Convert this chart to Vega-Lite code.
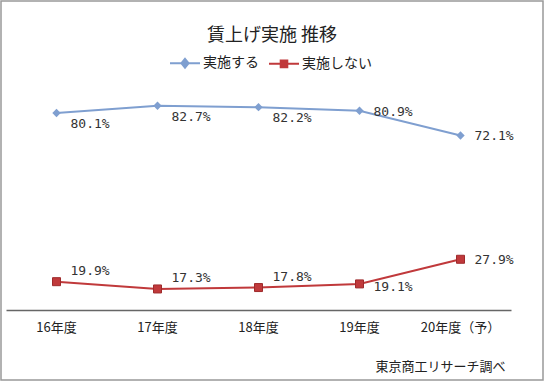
{
  "$schema": "https://vega.github.io/schema/vega-lite/v6.json",
  "width": 542,
  "height": 379,
  "padding": 1,
  "autosize": {"type": "none"},
  "background": "white",
  "config": {
    "view": {"stroke": "#999999", "strokeWidth": 1.5},
    "font": "Noto Sans CJK JP"
  },
  "title": {
    "text": "賃上げ実施 推移",
    "offset": -44,
    "fontSize": 18,
    "font": "Noto Sans CJK JP",
    "fontWeight": "normal",
    "color": "#222222",
    "anchor": "middle"
  },
  "data": {
    "values": [
      {"year": "16年度", "series": "実施する", "value": 80.1},
      {"year": "17年度", "series": "実施する", "value": 82.7},
      {"year": "18年度", "series": "実施する", "value": 82.2},
      {"year": "19年度", "series": "実施する", "value": 80.9},
      {"year": "20年度（予）", "series": "実施する", "value": 72.1},
      {"year": "16年度", "series": "実施しない", "value": 19.9},
      {"year": "17年度", "series": "実施しない", "value": 17.3},
      {"year": "18年度", "series": "実施しない", "value": 17.8},
      {"year": "19年度", "series": "実施しない", "value": 19.1},
      {"year": "20年度（予）", "series": "実施しない", "value": 27.9}
    ]
  },
  "encoding": {
    "x": {
      "field": "year",
      "type": "nominal",
      "sort": ["16年度", "17年度", "18年度", "19年度", "20年度（予）"],
      "scale": {"type": "band", "range": [5, 510], "paddingInner": 0, "paddingOuter": 0},
      "axis": {
        "offset": -70,
        "labelAngle": 0,
        "labelFont": "Noto Sans CJK JP",
        "labelFontSize": 13,
        "labelColor": "#222222",
        "labelPadding": 11,
        "ticks": false,
        "domainColor": "#666666",
        "domainWidth": 1.5,
        "grid": false,
        "title": "東京商工リサーチ調べ",
        "titleFont": "Noto Sans CJK JP",
        "titleFontSize": 13,
        "titleFontWeight": "normal",
        "titleColor": "#222222",
        "titleX": 504,
        "titleY": 56,
        "titleAlign": "right",
        "titleBaseline": "middle",
        "titleAnchor": null
      }
    },
    "y": {
      "field": "value",
      "type": "quantitative",
      "scale": {"domain": [-15.2, 120.1], "nice": false, "zero": false},
      "axis": null
    },
    "color": {
      "field": "series",
      "type": "nominal",
      "scale": {"domain": ["実施する", "実施しない"], "range": ["#7F9FD0", "#C0393B"]},
      "legend": {
        "title": null,
        "orient": "none",
        "direction": "horizontal",
        "legendX": 168,
        "legendY": 46,
        "labelFont": "Noto Sans CJK JP",
        "labelFontSize": 14,
        "labelColor": "#222222",
        "labelOffset": 2,
        "columnPadding": 6,
        "symbolSize": 900,
        "encode": {
          "symbols": {
            "update": {
              "shape": {"signal": "datum.value === '実施する' ? 'M-1,0H1M0,-0.3L0.24,0L0,0.3L-0.24,0Z' : 'M-1,0H1M-0.22,-0.22H0.22V0.22H-0.22Z'"},
              "fill": {"scale": "color", "field": "value"},
              "stroke": {"scale": "color", "field": "value"},
              "strokeWidth": {"value": 2},
              "size": {"value": 900},
              "opacity": {"value": 1}
            }
          }
        }
      }
    }
  },
  "layer": [
    {"mark": {"type": "line", "strokeWidth": 2}},
    {
      "transform": [{"filter": "datum.series === '実施する'"}],
      "mark": {"type": "point", "filled": true, "opacity": 1, "size": 70, "shape": "diamond"}
    },
    {
      "transform": [{"filter": "datum.series === '実施しない'"}],
      "mark": {"type": "point", "filled": true, "opacity": 1, "size": 64, "shape": "square", "stroke": "#9E2A2B", "strokeWidth": 1}
    },
    {
      "transform": [
        {"filter": "datum.series === '実施する' && indexof(['16年度','17年度','18年度'], datum.year) >= 0"},
        {"calculate": "format(datum.value, '.1f') + '%'", "as": "label"}
      ],
      "mark": {"type": "text", "align": "left", "baseline": "middle", "dx": 14, "dy": 11, "font": "DejaVu Sans Mono", "fontSize": 13},
      "encoding": {"text": {"field": "label"}, "color": {"value": "#333333"}}
    },
    {
      "transform": [
        {"filter": "(datum.series === '実施する' && datum.year === '19年度') || datum.year === '20年度（予）'"},
        {"calculate": "format(datum.value, '.1f') + '%'", "as": "label"}
      ],
      "mark": {"type": "text", "align": "left", "baseline": "middle", "dx": 14, "dy": 1, "font": "DejaVu Sans Mono", "fontSize": 13},
      "encoding": {"text": {"field": "label"}, "color": {"value": "#333333"}}
    },
    {
      "transform": [
        {"filter": "datum.series === '実施しない' && indexof(['16年度','17年度','18年度'], datum.year) >= 0"},
        {"calculate": "format(datum.value, '.1f') + '%'", "as": "label"}
      ],
      "mark": {"type": "text", "align": "left", "baseline": "middle", "dx": 14, "dy": -11, "font": "DejaVu Sans Mono", "fontSize": 13},
      "encoding": {"text": {"field": "label"}, "color": {"value": "#333333"}}
    },
    {
      "transform": [
        {"filter": "datum.series === '実施しない' && datum.year === '19年度'"},
        {"calculate": "format(datum.value, '.1f') + '%'", "as": "label"}
      ],
      "mark": {"type": "text", "align": "left", "baseline": "middle", "dx": 14, "dy": 3, "font": "DejaVu Sans Mono", "fontSize": 13},
      "encoding": {"text": {"field": "label"}, "color": {"value": "#333333"}}
    }
  ]
}
